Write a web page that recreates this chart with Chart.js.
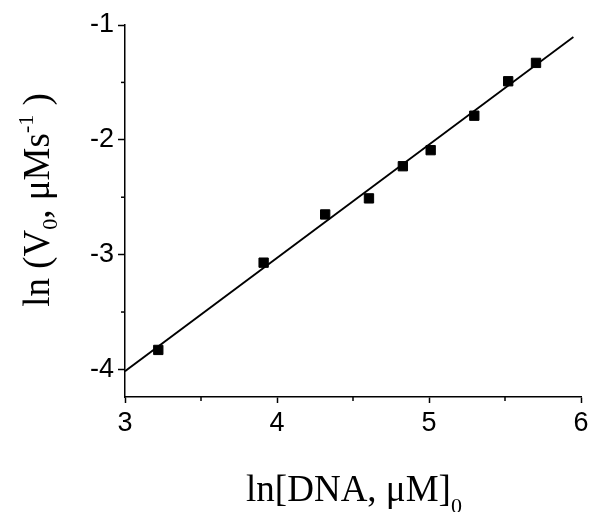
<!DOCTYPE html>
<html>
<head>
<meta charset="utf-8">
<script src="https://cdn.jsdelivr.net/npm/chart.js@4"></script>
<style>
  html, body { margin: 0; padding: 0; background: #fff; }
  #wrap { width: 589px; height: 512px; }
</style>
</head>
<body>
<div id="wrap"><canvas id="chart" width="589" height="512"></canvas></div>
<script>
// ln of DNA concentration vs ln of initial rate
const lnDNA = [3.219, 3.912, 4.317, 4.605, 4.828, 5.011, 5.298, 5.521, 5.704];
const lnV0 = [-3.83, -3.07, -2.65, -2.51, -2.23, -2.09, -1.79, -1.49, -1.33];

// fitted straight line, end points
const fitX = [3.0, 5.95];
const fitY = [-4.015, -1.105];

const xTicks = [3, 4, 5, 6];
const yTicks = [-4, -3, -2, -1];
const xMinor = [3.5, 4.5, 5.5];
const yMinor = [-3.5, -2.5, -1.5];

const serif = '"Liberation Serif", "Times New Roman", serif';
const sans = '"Liberation Sans", Arial, sans-serif';

// draws text made of normal / sub / superscript pieces, centred at x
function drawRich(ctx, parts, cx, y) {
    let total = 0;
    parts.forEach(p => {
        ctx.font = p.size + 'px ' + serif;
        total += ctx.measureText(p.t).width;
    });
    let x = cx - total / 2;
    parts.forEach(p => {
        ctx.font = p.size + 'px ' + serif;
        ctx.fillText(p.t, x, y + (p.dy || 0));
        x += ctx.measureText(p.t).width;
    });
}

const extras = {
    id: 'extras',
    afterDraw(chart) {
        const ctx = chart.ctx;
        const xs = chart.scales.x, ys = chart.scales.y;
        const area = chart.chartArea;
        ctx.save();
        ctx.strokeStyle = '#000';
        ctx.lineWidth = 1.5;
        // minor ticks
        xMinor.forEach(v => {
            const px = xs.getPixelForValue(v);
            ctx.beginPath();
            ctx.moveTo(px, area.bottom);
            ctx.lineTo(px, area.bottom + 4);
            ctx.stroke();
        });
        yMinor.forEach(v => {
            const py = ys.getPixelForValue(v);
            ctx.beginPath();
            ctx.moveTo(area.left, py);
            ctx.lineTo(area.left - 4, py);
            ctx.stroke();
        });

        // axis titles
        ctx.fillStyle = '#000';
        ctx.textBaseline = 'alphabetic';
        ctx.textAlign = 'left';
        const cx = (area.left + area.right) / 2;
        drawRich(ctx, [
            { t: 'ln[DNA, μM]', size: 37 },
            { t: '0', size: 22, dy: 12 }
        ], cx + 1, 501);

        const cy = (area.top + area.bottom) / 2;
        ctx.translate(49, cy - 11);
        ctx.rotate(-Math.PI / 2);
        drawRich(ctx, [
            { t: 'ln (V', size: 37 },
            { t: '0', size: 22, dy: 8 },
            { t: ', μMs', size: 37 },
            { t: '-1', size: 22, dy: -16 },
            { t: ' )', size: 37 }
        ], 0, 0);
        ctx.restore();
    }
};

new Chart(document.getElementById('chart'), {
    type: 'scatter',
    data: {
        datasets: [
            {
                label: 'data',
                data: lnDNA.map((x, i) => ({ x: x, y: lnV0[i] })),
                pointStyle: 'rect',
                pointRadius: 6.6,
                pointBackgroundColor: '#000',
                pointBorderColor: '#000',
                pointBorderWidth: 1,
                showLine: false
            },
            {
                label: 'fit',
                data: fitX.map((x, i) => ({ x: x, y: fitY[i] })),
                showLine: true,
                borderColor: '#000',
                borderWidth: 1.8,
                pointRadius: 0,
                fill: false
            }
        ]
    },
    options: {
        responsive: false,
        animation: false,
        events: [],
        layout: { padding: { top: 25, right: 0, left: 0, bottom: 0 } },
        plugins: {
            legend: { display: false },
            tooltip: { enabled: false }
        },
        scales: {
            x: {
                type: 'linear',
                min: 3,
                max: 6,
                afterBuildTicks: s => { s.ticks = xTicks.map(v => ({ value: v })); },
                afterFit: s => { s.height = 115; s.paddingLeft = 0; s.paddingRight = 8; },
                border: { display: true, color: '#000', width: 1.5 },
                grid: { drawOnChartArea: false, drawTicks: true, tickLength: 6, tickWidth: 1.5, tickColor: '#000' },
                ticks: { color: '#000', font: { family: sans, size: 27 }, padding: 4, maxRotation: 0 }
            },
            y: {
                type: 'linear',
                min: -4.24,
                max: -1,
                afterBuildTicks: s => { s.ticks = yTicks.map(v => ({ value: v })); },
                afterFit: s => { s.width = 125; },
                border: { display: true, color: '#000', width: 1.5 },
                grid: { drawOnChartArea: false, drawTicks: true, tickLength: 7, tickWidth: 1.5, tickColor: '#000' },
                ticks: { color: '#000', font: { family: sans, size: 27 }, padding: 4 }
            }
        }
    },
    plugins: [extras]
});
</script>
</body>
</html>
